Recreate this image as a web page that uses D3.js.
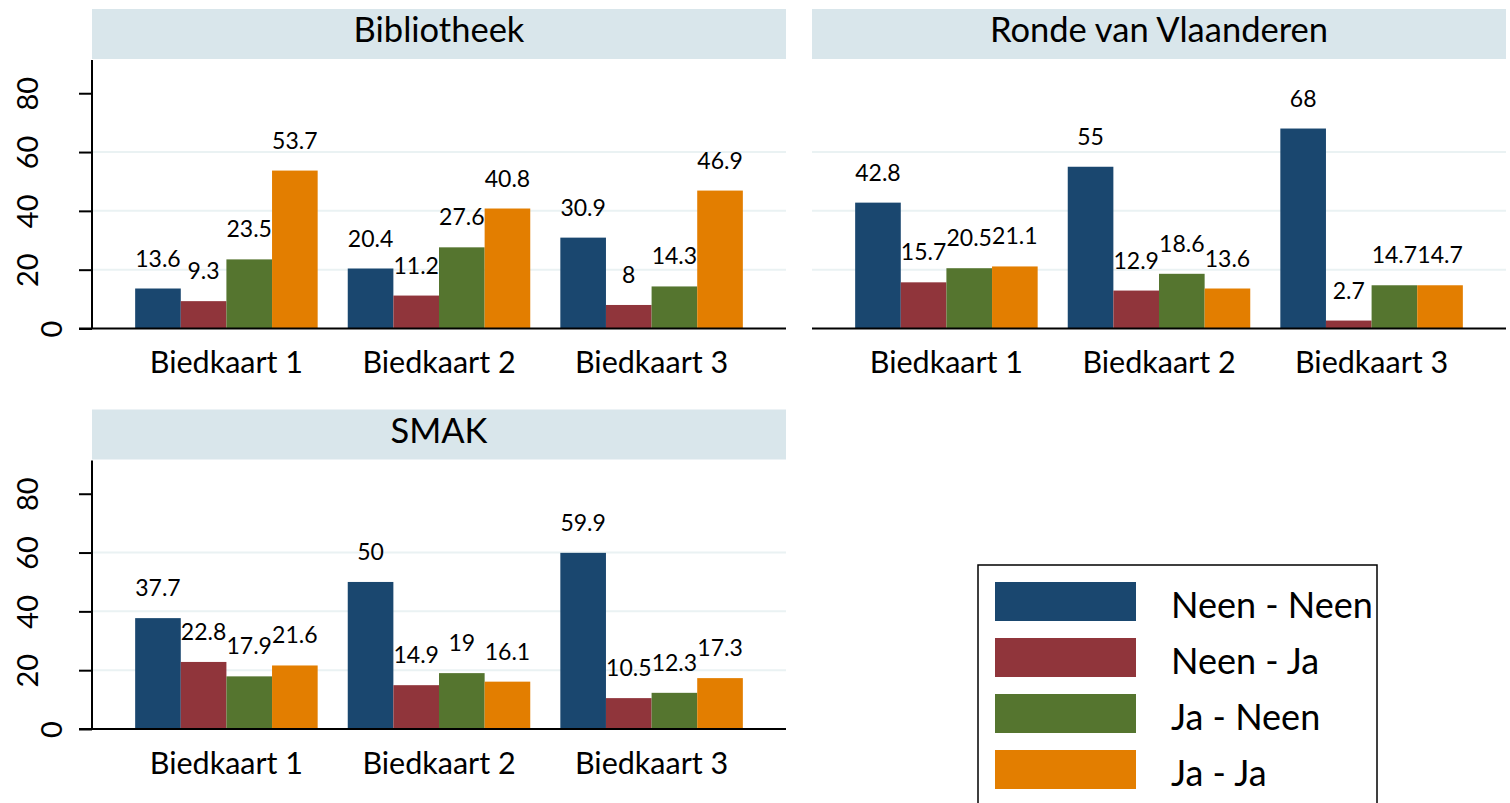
<!DOCTYPE html>
<html><head><meta charset="utf-8">
<script src="https://cdn.jsdelivr.net/npm/d3@7"></script>
<style>
body{margin:0;background:#fff;}
svg{display:block;}
text{font-family:Lato,"Open Sans",sans-serif;fill:#000;}
</style></head>
<body><svg id="chart" width="1510" height="803"></svg>
<script>
// ---- data ----
const panelTitles = ["Bibliotheek", "Ronde van Vlaanderen", "SMAK"];
const categories = ["Biedkaart 1", "Biedkaart 2", "Biedkaart 3"];
const series = ["Neen - Neen", "Neen - Ja", "Ja - Neen", "Ja - Ja"];
const bibliotheek = [[13.6, 9.3, 23.5, 53.7], [20.4, 11.2, 27.6, 40.8], [30.9, 8, 14.3, 46.9]];
const rondeVanVlaanderen = [[42.8, 15.7, 20.5, 21.1], [55, 12.9, 18.6, 13.6], [68, 2.7, 14.7, 14.7]];
const smak = [[37.7, 22.8, 17.9, 21.6], [50, 14.9, 19, 16.1], [59.9, 10.5, 12.3, 17.3]];
const yTicks = [0, 20, 40, 60, 80];
const gridTicks = [20, 40, 60];
const colors = ["#1a476f", "#90353b", "#55752f", "#e37e00"];

// ---- layout ----
const svg = d3.select("#chart");
const panelData = [bibliotheek, rondeVanVlaanderen, smak];
const layout = [
  {x0: 92, x1: 786, top: 9, axis: true},
  {x0: 812, x1: 1506, top: 9, axis: false},
  {x0: 92, x1: 786, top: 409.5, axis: true}
];
const headerH = 50, plotTopGap = 51, plotH = 268.5;
const yMax = 91.3;

panelTitles.forEach((title, pi) => {
  const L = layout[pi];
  const data = panelData[pi];
  const g = svg.append("g");
  const plotTop = L.top + plotTopGap, plotBottom = plotTop + plotH;

  // header
  g.append("rect").attr("x", L.x0).attr("y", L.top).attr("width", L.x1 - L.x0).attr("height", headerH)
    .attr("fill", "#d9e6eb");
  g.append("text").attr("x", (L.x0 + L.x1) / 2).attr("y", L.top + 33).attr("text-anchor", "middle")
    .style("font-size", "34.5px").text(title);

  const y = d3.scaleLinear().domain([0, yMax]).range([plotBottom, plotTop]);
  const x = d3.scaleBand().domain(categories).range([L.x0, L.x1]).paddingInner(0.1415).paddingOuter(0.203);
  const xs = d3.scaleBand().domain(series).range([0, x.bandwidth()]);

  // grid
  g.selectAll(".grid").data(gridTicks).enter().append("line")
    .attr("x1", L.x0).attr("x2", L.x1).attr("y1", d => y(d)).attr("y2", d => y(d))
    .attr("stroke", "#eaf2f3").attr("stroke-width", 2);

  // bars
  categories.forEach((c, ci) => {
    const gg = g.append("g").attr("transform", `translate(${x(c)},0)`);
    gg.selectAll("rect").data(data[ci]).enter().append("rect")
      .attr("x", (d, i) => xs(series[i])).attr("width", xs.bandwidth())
      .attr("y", d => y(d)).attr("height", d => y(0) - y(d))
      .attr("fill", (d, i) => colors[i]);
    gg.selectAll("text").data(data[ci]).enter().append("text")
      .attr("x", (d, i) => xs(series[i]) + xs.bandwidth() / 2)
      .attr("y", d => y(d) - 22).attr("text-anchor", "middle")
      .style("font-size", "23px").text(d => d);
  });

  // x axis labels
  const xAxis = d3.axisBottom(x).tickSize(0).tickPadding(0);
  const xg = g.append("g").attr("transform", `translate(0,${plotBottom})`).call(xAxis);
  xg.select(".domain").remove();
  xg.selectAll("text").attr("y", 44.5).attr("dy", null).style("font-size", "30.5px").attr("fill", "#000");

  // baseline
  g.append("line").attr("x1", L.axis ? L.x0 - 13 : L.x0).attr("x2", L.x1)
    .attr("y1", y(0)).attr("y2", y(0)).attr("stroke", "#000").attr("stroke-width", 2);

  if (L.axis) {
    const yAxis = d3.axisLeft(y).tickValues(yTicks).tickSize(13).tickPadding(0);
    const yg = g.append("g").attr("transform", `translate(${L.x0},0)`).call(yAxis);
    yg.select(".domain").attr("d", `M0,${plotTop}V${plotBottom}`).attr("stroke", "#000").attr("stroke-width", 2);
    yg.selectAll(".tick line").attr("stroke", "#000").attr("stroke-width", 2);
    yg.selectAll(".tick text")
      .attr("x", null).attr("dy", null)
      .attr("text-anchor", "middle").attr("fill", "#000")
      .style("font-size", "29px")
      .attr("transform", d => `translate(${String(d).length === 1 ? -30 : -54},0) rotate(-90)`)
      .attr("y", 0);
  }
});

// ---- legend ----
const lg = svg.append("g");
lg.append("rect").attr("x", 978).attr("y", 565).attr("width", 399).attr("height", 260)
  .attr("fill", "#fff").attr("stroke", "#000").attr("stroke-width", 1.5);
const ly = d3.scaleBand().domain(series).range([582, 806]);
series.forEach((s, i) => {
  lg.append("rect").attr("x", 995).attr("y", ly(s)).attr("width", 141).attr("height", 39).attr("fill", colors[i]);
  lg.append("text").attr("x", 1171).attr("y", ly(s) + 36).style("font-size", "36px").text(s);
});
</script></body></html>
